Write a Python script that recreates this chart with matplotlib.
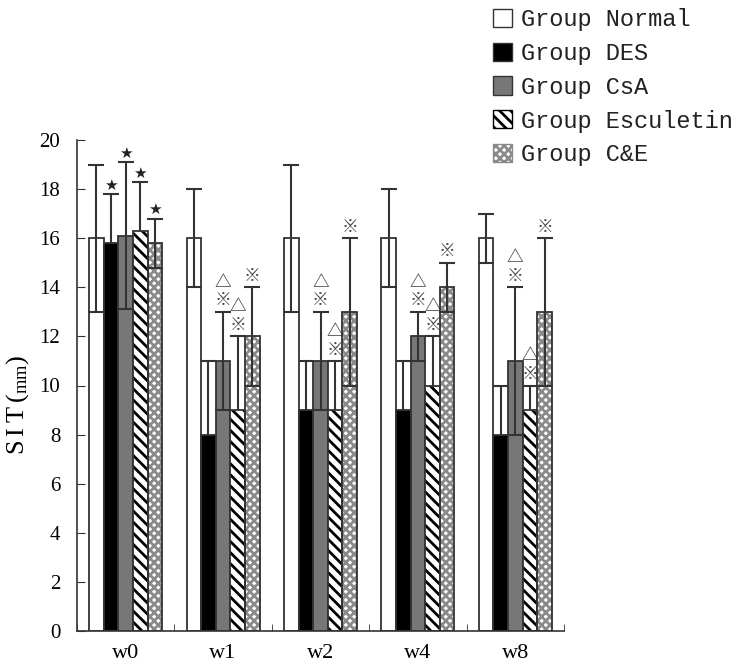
import numpy as np
import matplotlib
matplotlib.use("Agg")
import matplotlib.pyplot as plt
from matplotlib.patches import Patch

plt.rcParams['font.family'] = ['Liberation Serif', 'DejaVu Serif']
plt.rcParams['hatch.linewidth'] = 2.0

weeks = ['w0', 'w1', 'w2', 'w4', 'w8']
groups = ['Group Normal', 'Group DES', 'Group CsA', 'Group Esculetin', 'Group C&E']

normal = [16, 16, 16, 16, 16]
des = [15.8, 8, 9, 9, 8]
csa = [16.1, 11, 11, 12, 11]
escu = [16.3, 9, 9, 10, 9]
ce = [15.8, 12, 13, 14, 13]

normal_sd = [3, 2, 3, 2, 1]
des_sd = [2, 3, 2, 2, 2]
csa_sd = [3, 2, 2, 1, 3]
escu_sd = [2, 3, 2, 2, 1]
ce_sd = [1, 2, 3, 1, 3]

# significance marks above each bar (bottom to top)
normal_mk = ['', '', '', '', '']
des_mk = ['★', '', '', '', '']
csa_mk = ['★', '※△', '※△', '※△', '※△']
escu_mk = ['★', '※△', '※△', '※△', '※△']
ce_mk = ['★', '※', '※', '※', '※']

vals = [normal, des, csa, escu, ce]
sds = [normal_sd, des_sd, csa_sd, escu_sd, ce_sd]
marks = [normal_mk, des_mk, csa_mk, escu_mk, ce_mk]

edge = '#333333'
styles = [
    dict(color='white'),
    dict(color='black'),
    dict(color='#777777'),
    dict(color='white', hatch='\\\\\\'),
    dict(color='white', hatch='xxxx'),
]
hatch_col = [edge, 'black', edge, 'black', '#8a8a8a']
err_z = [4, 1.5, 4, 1.5, 4]

fig = plt.figure(figsize=(7.39, 6.72), dpi=100)
ax = fig.add_axes([77/739, 41/672, 487/739, 491/672])

x = np.arange(len(weeks)) + 0.5
w = 0.15
handles = []
for k in range(5):
    xk = x + (k - 2) * w
    st = styles[k]
    if 'hatch' in st:
        ax.bar(xk, vals[k], w, color=st['color'], hatch=st['hatch'],
               edgecolor=hatch_col[k], linewidth=0, zorder=2)
        ax.bar(xk, vals[k], w, fill=False, edgecolor=edge, linewidth=1.3, zorder=3)
        handles.append(Patch(facecolor='white', hatch=st['hatch'],
                             edgecolor=hatch_col[k], linewidth=1.0))
    else:
        ax.bar(xk, vals[k], w, color=st['color'], edgecolor=edge, linewidth=1.3, zorder=2)
        handles.append(Patch(facecolor=st['color'], edgecolor=edge, linewidth=1.0))
    ax.errorbar(xk, vals[k], yerr=sds[k], fmt='none', ecolor='#333333',
                elinewidth=1.5, capsize=6, capthick=1.5, zorder=err_z[k])
    for i in range(5):
        m = marks[k][i]
        if not m:
            continue
        top = vals[k][i] + sds[k][i]
        if m == '★':
            ax.text(xk[i], top + 0.05, m, ha='center', va='bottom', fontsize=11,
                    color='#222222', family=['DejaVu Sans'])
        else:
            txt = '\n'.join(reversed(list(m)))
            ax.text(xk[i], top + 0.1, txt, ha='center', va='bottom', fontsize=12,
                    linespacing=1.05, color='#444444', fontweight='bold',
                    family=['Noto Sans CJK SC', 'DejaVu Sans'])

ax.set_xlim(0, 5)
ax.set_ylim(0, 20)
ax.set_yticks(np.arange(0, 21, 2))
ax.set_xticks(x)
ax.set_xticklabels(weeks, fontsize=16)
ax.set_xticks(np.arange(0, 6), minor=True)
ax.tick_params(axis='x', which='major', length=0, pad=9)
ax.tick_params(axis='x', which='minor', direction='in', length=5, color=edge)
ax.tick_params(axis='y', direction='in', length=6, labelsize=15, pad=12, color=edge)
for s in ['top', 'right']:
    ax.spines[s].set_visible(False)
for s in ['left', 'bottom']:
    ax.spines[s].set_color(edge)
    ax.spines[s].set_linewidth(1.2)

ax.set_ylabel(r'$\mathregular{S\,I\,T\,(_{mm})}$', fontsize=19)
ax.yaxis.set_label_coords(-0.095, 0.46)

fig.legend(handles, groups, loc='upper left', bbox_to_anchor=(493/739, 1 - 8/672),
           frameon=False, prop={'family': 'Liberation Mono', 'size': 17},
           handlelength=0.8, handleheight=0.8, handletextpad=0.4,
           labelspacing=0.46, borderpad=0, borderaxespad=0, labelcolor='#222222')

fig.savefig('out.png', dpi=100)
